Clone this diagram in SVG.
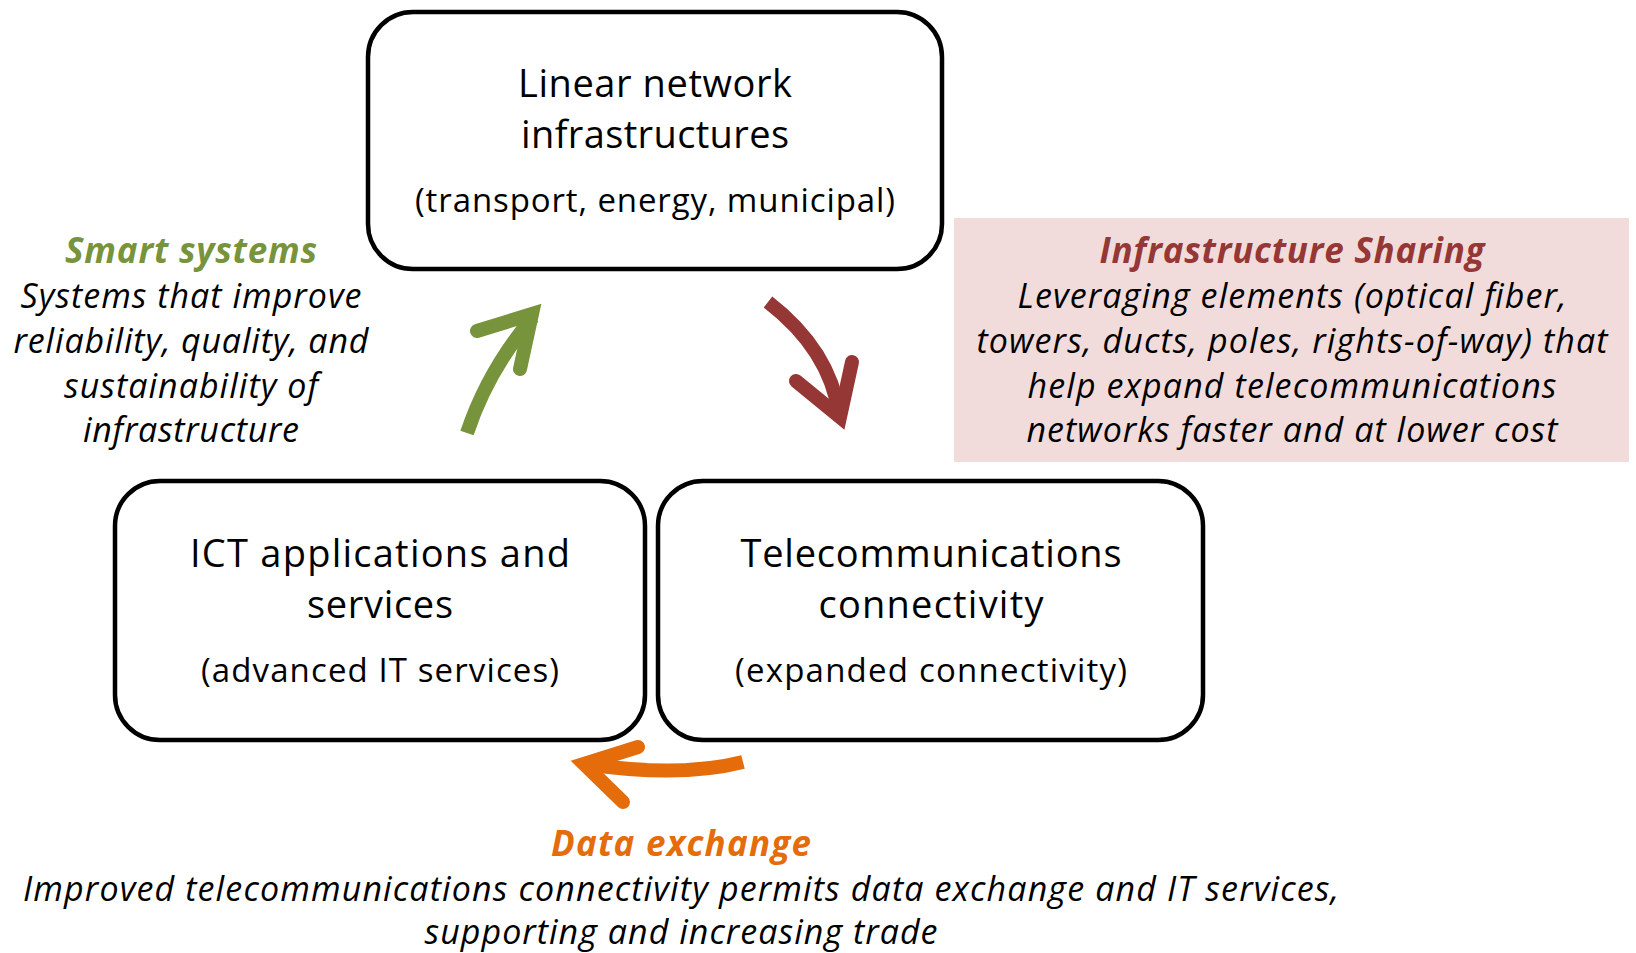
<svg xmlns="http://www.w3.org/2000/svg" width="1636" height="953" viewBox="0 0 1636 953">
  <style>
    .box { fill: #ffffff; stroke: #000000; stroke-width: 4.5; }
    .main { font-family: "Open Sans", "Liberation Sans", sans-serif; font-size: 38px; fill: #000000; text-anchor: middle; }
    .sub { font-family: "Open Sans", "Liberation Sans", sans-serif; font-size: 33px; fill: #000000; text-anchor: middle; }
    .note { font-family: "Open Sans", "Liberation Sans", sans-serif; font-style: italic; font-size: 34px; fill: #000000; text-anchor: middle; }
    .head { font-family: "Open Sans", "Liberation Sans", sans-serif; font-style: italic; font-weight: bold; font-size: 35px; text-anchor: middle; }
    .shaft { fill: none; stroke-width: 14; stroke-linecap: butt; }
    .tip { fill: none; stroke-width: 14; stroke-linecap: round; stroke-linejoin: miter; stroke-miterlimit: 6; }
  </style>

  <!-- shaded panel behind the sharing note -->
  <rect id="sharing-panel" x="954" y="218" width="675" height="244" fill="#F2DCDB"/>

  <g id="node-linear">
    <rect class="box" x="368" y="12" width="574" height="257" rx="45"/>
    <text class="main" x="655" y="97" textLength="274">Linear network</text>
    <text class="main" x="655" y="148" textLength="268">infrastructures</text>
    <text class="sub" x="655" y="212" textLength="480">(transport, energy, municipal)</text>
  </g>

  <g id="node-ict">
    <rect class="box" x="115" y="481" width="530" height="259" rx="45"/>
    <text class="main" x="380" y="567" textLength="380">ICT applications and</text>
    <text class="main" x="380" y="618" textLength="146">services</text>
    <text class="sub" x="380" y="682" textLength="358">(advanced IT services)</text>
  </g>

  <g id="node-telecom">
    <rect class="box" x="658" y="481" width="545" height="259" rx="45"/>
    <text class="main" x="931" y="567" textLength="381">Telecommunications</text>
    <text class="main" x="931" y="618" textLength="225">connectivity</text>
    <text class="sub" x="931" y="682" textLength="392">(expanded connectivity)</text>
  </g>

  <g id="connectors">
    <!-- smart systems: ICT -> linear infrastructure -->
    <g stroke="#77933C">
      <path class="shaft" d="M467,433 Q488,370 533,317"/>
      <path class="tip" d="M477,331 L532,314 L520,369"/>
    </g>
    <!-- infrastructure sharing: linear infrastructure -> telecom -->
    <g stroke="#953735">
      <path class="shaft" d="M768,302 Q830,350 839,414"/>
      <path class="tip" d="M796,381 L840,417 L852,362"/>
    </g>
    <!-- data exchange: telecom -> ICT -->
    <g stroke="#E46C0A">
      <path class="shaft" d="M743,762 Q680,778 586,764"/>
      <path class="tip" d="M638,747 L584,764 L623,802"/>
    </g>
  </g>

  <g id="label-smart">
    <text class="head" x="191" y="263" fill="#77933C" textLength="252">Smart systems</text>
    <text class="note" x="191" y="308" textLength="341">Systems that improve</text>
    <text class="note" x="191" y="353" textLength="355">reliability, quality, and</text>
    <text class="note" x="191" y="398" textLength="254">sustainability of</text>
    <text class="note" x="191" y="442" textLength="216">infrastructure</text>
  </g>

  <g id="label-sharing">
    <text class="head" x="1292" y="263" fill="#953735" textLength="385">Infrastructure Sharing</text>
    <text class="note" x="1292" y="308" textLength="549">Leveraging elements (optical fiber,</text>
    <text class="note" x="1292" y="353" textLength="631">towers, ducts, poles, rights-of-way) that</text>
    <text class="note" x="1292" y="398" textLength="529">help expand telecommunications</text>
    <text class="note" x="1292" y="442" textLength="531">networks faster and at lower cost</text>
  </g>

  <g id="label-data">
    <text class="head" x="681" y="856" fill="#E46C0A" textLength="260">Data exchange</text>
    <text class="note" x="681" y="901" textLength="1316">Improved telecommunications connectivity permits data exchange and IT services,</text>
    <text class="note" x="681" y="944" textLength="513">supporting and increasing trade</text>
  </g>
</svg>
